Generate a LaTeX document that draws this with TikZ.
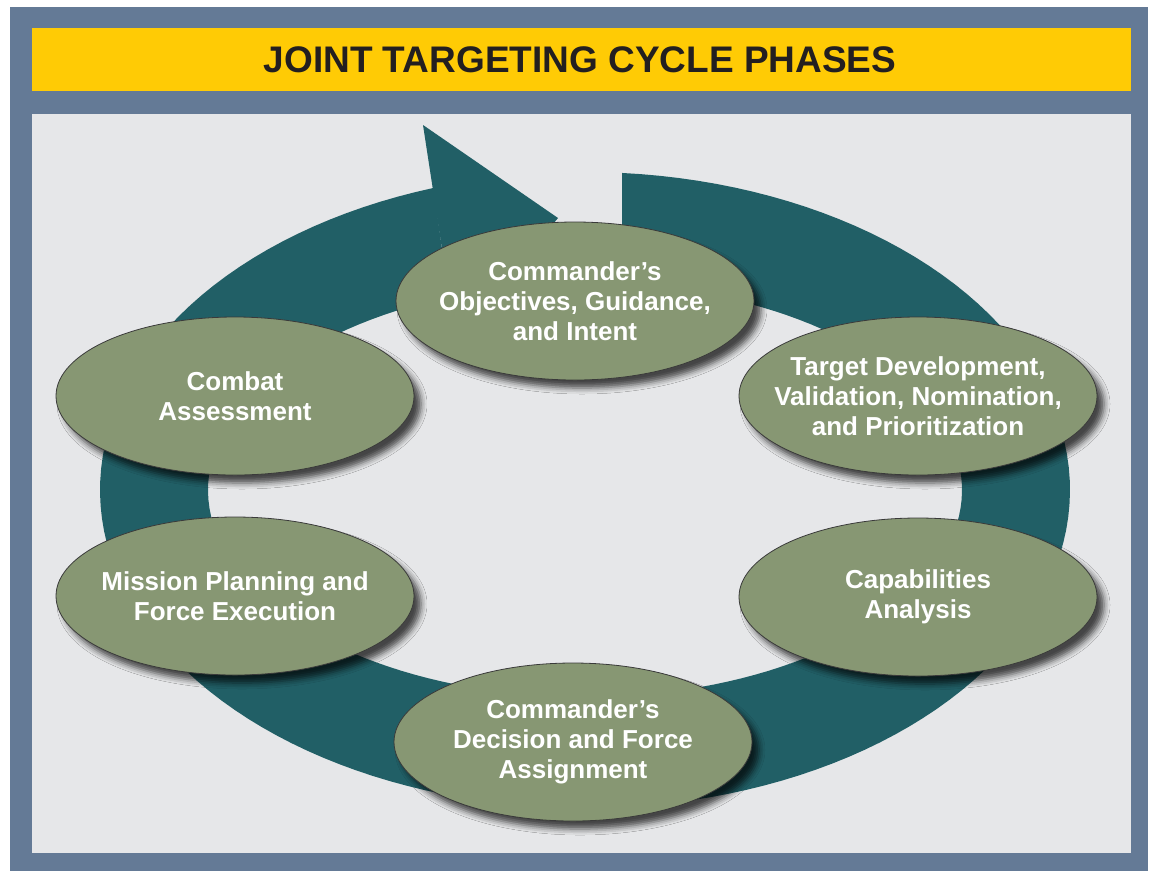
\documentclass[tikz,border=0pt]{standalone}
\usepackage{fontspec}
\setmainfont{Liberation Sans}
\usepackage{tikz}
\usetikzlibrary{shapes.geometric,shadows.blur}
\definecolor{frameblue}{HTML}{647A96}
\definecolor{titleyellow}{HTML}{FFCB05}
\definecolor{titleblack}{HTML}{231F20}
\definecolor{panelgray}{HTML}{E6E7E9}
\definecolor{ringteal}{HTML}{215F66}
\definecolor{phasegreen}{HTML}{879773}
\definecolor{phaseline}{HTML}{3A3A3A}

\begin{document}
\begin{tikzpicture}[x=1pt, y=-1pt,
    phase/.style={ellipse, draw=phaseline, line width=0.8pt, fill=phasegreen,
      minimum width=358pt, minimum height=158pt, inner xsep=-80pt, inner ysep=-40pt, text=white, align=center,
      font=\fontsize{26}{30}\selectfont\bfseries,
      blur shadow={shadow xshift=7pt, shadow yshift=-8pt, shadow blur radius=6pt, shadow opacity=70}}]
    \useasboundingbox (0,0) rectangle (1150,871);
    \fill[white] (0,0) rectangle (1150,871);
    \fill[frameblue] (10,7) rectangle (1148,871);
    \fill[titleyellow] (32,28) rectangle (1131,91);
    \fill[panelgray] (32,114) rectangle (1131,853);
    \node[font=\fontsize{37}{37}\selectfont\bfseries, text=titleblack] (title) at (580,59.5) {JOINT TARGETING CYCLE PHASES};
    \fill[ringteal] plot[domain=-85.62:251.8, samples=150] ({585+485*cos(\x)},{490+318*sin(\x)})
      -- plot[domain=248.8:-84.37, samples=150] ({585+377*cos(\x)},{490+207*sin(\x)}) -- cycle;
    \fill[ringteal] (423,125) -- (558,218) -- (456,340) -- cycle;
    \node[phase] (cmdobj) at (575,301) {Commander’s\\Objectives, Guidance,\\and Intent};
    \node[phase] (tgtdev) at (918,396) {Target Development,\\Validation, Nomination,\\and Prioritization};
    \node[phase] (capana) at (918,597) {Capabilities\\Analysis};
    \node[phase] (cmddec) at (573,742) {Commander’s\\Decision and Force\\Assignment};
    \node[phase] (mission) at (235,596) {Mission Planning and\\Force Execution};
    \node[phase] (combat) at (235,396) {Combat\\Assessment};
\end{tikzpicture}
\end{document}
